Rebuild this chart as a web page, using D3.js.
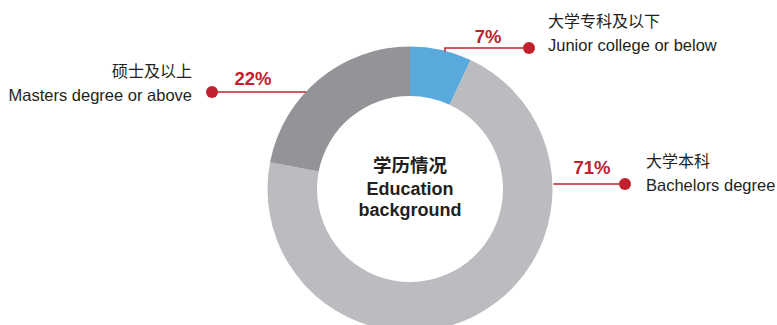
<!DOCTYPE html>
<html><head><meta charset="utf-8">
<script src="https://cdn.jsdelivr.net/npm/d3@7"></script>
<style>
html,body{margin:0;padding:0;background:#fff;}
svg{display:block;}
text{font-family:"Liberation Sans","Noto Sans CJK SC",Arial,sans-serif;}
</style></head>
<body>
<svg id="chart" width="777" height="325"></svg>
<script>
const categoriesZh = ["大学专科及以下", "大学本科", "硕士及以上"];
const categoriesEn = ["Junior college or below", "Bachelors degree", "Masters degree or above"];
const values = [7, 71, 22];
const colors = ["#5aa9dc", "#bbbcbf", "#939497"];
const centerTitle = ["学历情况", "Education", "background"];

const W = 777, H = 325, cx = 410, cy = 189, rOuter = 142.5, rInner = 93;
const red = "#c1202f", textCol = "#231f20";
// label layout: optional tick angle (deg), label line y, dot x, side
const layout = [
  {ang: 14.2, y: 48, dotX: 529, side: "right", textX: 548, zhY: 27, enY: 51, pctX: 488, pctY: 43},
  {ang: null, y: 184, dotX: 625, side: "right", textX: 646, zhY: 167, enY: 191, pctX: 592, pctY: 174},
  {ang: null, y: 92, dotX: 212, side: "left", textX: 192, zhY: 77, enY: 101, pctX: 253, pctY: 85}
];

const svg = d3.select("#chart");
const g = svg.append("g").attr("transform", `translate(${cx},${cy})`);
const pie = d3.pie().sort(null).value(d => d)(values);
const arc = d3.arc().innerRadius(rInner).outerRadius(rOuter);
g.selectAll("path.slice").data(pie).join("path")
  .attr("class", "slice")
  .attr("d", arc)
  .attr("fill", (d, i) => colors[i]);

// center text
const ct = svg.append("g").attr("text-anchor", "middle").attr("fill", textCol)
  .attr("font-weight", "bold").attr("font-size", 18);
ct.append("text").attr("x", cx).attr("y", 172).attr("font-size", 18.5)
  .style("font-family", "'Noto Sans CJK SC',sans-serif").text(centerTitle[0]);
ct.append("text").attr("x", cx).attr("y", 195).text(centerTitle[1]);
ct.append("text").attr("x", cx).attr("y", 216).text(centerTitle[2]);

// callouts
pie.forEach((p, i) => {
  const L = layout[i];
  const dir = L.side === "right" ? 1 : -1;
  const path = d3.path();
  if (L.ang !== null) {
    const a = L.ang * Math.PI / 180;
    const sx = cx + rOuter * Math.sin(a), sy = cy - rOuter * Math.cos(a);
    path.moveTo(sx, sy + 1);
    path.lineTo(sx, L.y);
  } else {
    const dy = L.y - cy;
    const sx = cx + dir * (Math.sqrt(rOuter * rOuter - dy * dy) + (dir > 0 ? 1 : -0.5));
    path.moveTo(sx, L.y);
  }
  path.lineTo(L.dotX, L.y);
  svg.append("path").attr("d", path.toString()).attr("fill", "none")
    .attr("stroke", red).attr("stroke-width", 1.5);
  svg.append("circle").attr("cx", L.dotX).attr("cy", L.y).attr("r", 6).attr("fill", red);
  svg.append("text").attr("x", L.pctX).attr("y", L.pctY).attr("text-anchor", "middle")
    .attr("fill", red).attr("font-weight", "bold").attr("font-size", 18.5)
    .text(values[i] + "%");
  const anchor = L.side === "right" ? "start" : "end";
  svg.append("text").attr("x", L.textX).attr("y", L.zhY).attr("text-anchor", anchor)
    .attr("fill", textCol).attr("font-size", 16)
    .style("font-family", "'Noto Sans CJK SC',sans-serif").text(categoriesZh[i]);
  svg.append("text").attr("x", L.textX).attr("y", L.enY).attr("text-anchor", anchor)
    .attr("fill", textCol).attr("font-size", 16.5).text(categoriesEn[i]);
});
</script>
</body></html>
